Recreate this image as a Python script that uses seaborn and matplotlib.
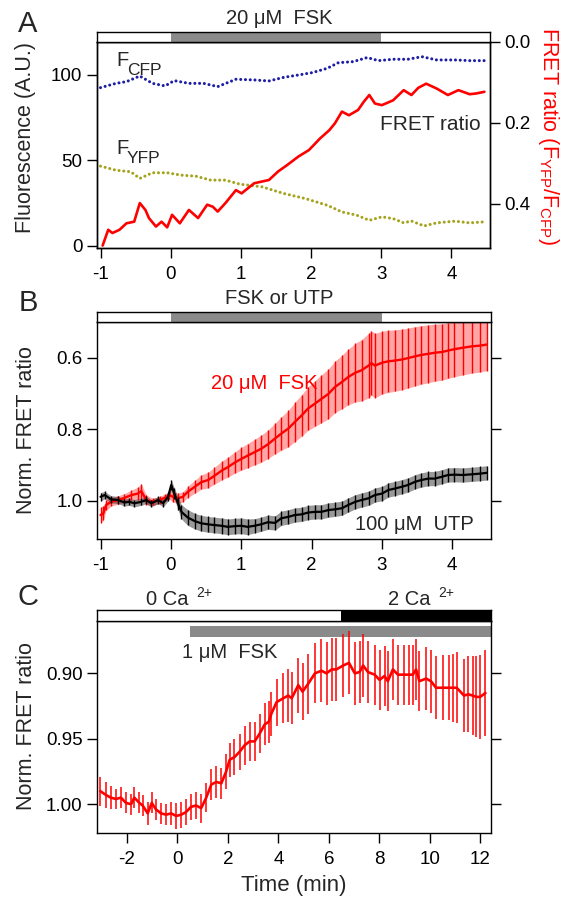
import matplotlib
matplotlib.use("Agg")
import matplotlib.pyplot as plt
import numpy as np
import seaborn as sns

# ------------------------------------------------------------------ data
# Panel A : raw fluorescence (left axis) and FRET ratio (right axis)
a_cfp_t = [-1.00, -0.78, -0.63, -0.44, -0.26, -0.08, 0.05, 0.26, 0.47, 0.67, 0.93, 1.19, 1.40, 1.61,
           1.82, 2.02, 2.23, 2.39, 2.60, 2.80, 2.96, 3.17, 3.38, 3.58, 3.79, 4.05, 4.26, 4.49]
a_cfp = [92.6, 95.1, 96.1, 99.4, 95.1, 93.6, 96.7, 95.1, 95.1, 93.2, 97.5, 97.1, 96.5, 98.6,
         100.0, 101.4, 103.9, 107.2, 107.8, 110.2, 108.4, 109.2, 109.2, 110.7, 108.8, 108.8, 108.4, 108.4]
a_yfp_t = [-1.00, -0.78, -0.57, -0.44, -0.26, -0.05, 0.15, 0.36, 0.57, 0.78, 0.99, 1.30, 1.61, 1.92,
           2.23, 2.44, 2.65, 2.83, 3.01, 3.17, 3.32, 3.43, 3.61, 3.79, 4.05, 4.26, 4.47]
a_yfp = [46.7, 44.3, 43.4, 39.5, 42.8, 42.8, 41.4, 40.8, 38.5, 38.5, 36.1, 34.6, 30.7, 27.7,
         23.8, 19.9, 18.0, 15.0, 17.0, 16.0, 13.5, 14.6, 11.7, 13.5, 14.5, 13.5, 14.1]
a_fret_t = [-0.97, -0.89, -0.83, -0.73, -0.63, -0.52, -0.44, -0.36, -0.31, -0.21, -0.13, -0.05, 0.02,
            0.13, 0.26, 0.39, 0.52, 0.60, 0.67, 0.78, 0.93, 1.01, 1.19, 1.40, 1.53, 1.66, 1.82, 1.97,
            2.13, 2.26, 2.34, 2.44, 2.54, 2.67, 2.75, 2.83, 2.91, 3.01, 3.17, 3.32, 3.43, 3.53, 3.64,
            3.79, 3.95, 4.10, 4.26, 4.36, 4.47]
a_fret = [0.503, 0.464, 0.472, 0.464, 0.448, 0.444, 0.398, 0.415, 0.435, 0.456, 0.444, 0.458, 0.427,
          0.448, 0.415, 0.435, 0.402, 0.407, 0.419, 0.398, 0.366, 0.374, 0.349, 0.341, 0.320, 0.304,
          0.283, 0.267, 0.238, 0.218, 0.201, 0.172, 0.181, 0.168, 0.148, 0.131, 0.152, 0.156, 0.144,
          0.119, 0.131, 0.113, 0.103, 0.115, 0.131, 0.119, 0.129, 0.127, 0.123]

# Panel B : normalised FRET ratio, 20 uM FSK (red) and 100 uM UTP (black)
b_fsk_t = [-1.00, -0.96, -0.92, -0.85, -0.75, -0.66, -0.56, -0.47, -0.42, -0.35, -0.26, -0.16, -0.09,
           -0.02, 0.03, 0.10, 0.17, 0.24, 0.34, 0.43, 0.53, 0.62, 0.72, 0.81, 0.91, 1.00, 1.09, 1.19,
           1.28, 1.38, 1.48, 1.57, 1.67, 1.76, 1.86, 1.95, 2.05, 2.14, 2.24, 2.33, 2.43, 2.52, 2.62,
           2.71, 2.81, 2.85, 2.90, 3.00, 3.09, 3.18, 3.28, 3.37, 3.47, 3.56, 3.66, 3.75, 3.85, 3.94,
           4.03, 4.15, 4.28, 4.40, 4.49]
b_fsk = [1.040, 1.035, 1.012, 1.003, 0.998, 0.992, 0.984, 0.980, 0.973, 0.998, 1.003, 0.998, 0.992,
         0.984, 0.989, 0.993, 0.989, 0.975, 0.961, 0.948, 0.942, 0.930, 0.916, 0.906, 0.893, 0.883,
         0.874, 0.864, 0.855, 0.842, 0.826, 0.812, 0.798, 0.780, 0.761, 0.742, 0.728, 0.715, 0.701,
         0.682, 0.668, 0.654, 0.642, 0.635, 0.622, 0.615, 0.622, 0.614, 0.610, 0.608, 0.605, 0.601,
         0.596, 0.592, 0.589, 0.586, 0.584, 0.580, 0.576, 0.572, 0.568, 0.566, 0.563]
b_fsk_err = [0.022, 0.020, 0.015, 0.012, 0.012, 0.012, 0.014, 0.018, 0.020, 0.014, 0.010, 0.010, 0.010,
             0.012, 0.015, 0.014, 0.014, 0.016, 0.018, 0.020, 0.022, 0.024, 0.026, 0.028, 0.030, 0.032,
             0.034, 0.036, 0.038, 0.040, 0.043, 0.047, 0.051, 0.055, 0.058, 0.061, 0.064, 0.067, 0.070,
             0.072, 0.075, 0.078, 0.082, 0.086, 0.090, 0.090, 0.090, 0.088, 0.087, 0.086, 0.085, 0.084,
             0.083, 0.082, 0.081, 0.080, 0.079, 0.078, 0.077, 0.076, 0.075, 0.074, 0.073]
b_utp_t = [-1.00, -0.94, -0.85, -0.75, -0.66, -0.59, -0.52, -0.42, -0.35, -0.28, -0.18, -0.11, -0.04,
           0.005, 0.05, 0.10, 0.15, 0.24, 0.34, 0.43, 0.53, 0.62, 0.72, 0.81, 0.91, 1.00, 1.09, 1.19,
           1.28, 1.38, 1.48, 1.57, 1.67, 1.76, 1.86, 1.95, 2.05, 2.14, 2.24, 2.33, 2.43, 2.52, 2.62,
           2.71, 2.81, 2.90, 3.00, 3.09, 3.18, 3.28, 3.37, 3.47, 3.56, 3.66, 3.75, 3.85, 3.94, 4.03,
           4.15, 4.28, 4.40, 4.49]
b_utp = [0.989, 0.984, 0.996, 0.998, 1.005, 1.003, 1.007, 1.003, 0.998, 1.007, 0.998, 1.007, 0.989,
         0.956, 0.980, 1.007, 1.031, 1.047, 1.057, 1.063, 1.066, 1.068, 1.070, 1.073, 1.071, 1.070,
         1.073, 1.070, 1.066, 1.060, 1.062, 1.049, 1.045, 1.040, 1.038, 1.033, 1.031, 1.031, 1.026,
         1.024, 1.021, 1.012, 1.003, 0.998, 0.993, 0.984, 0.980, 0.970, 0.966, 0.961, 0.956, 0.947,
         0.942, 0.938, 0.938, 0.933, 0.928, 0.927, 0.928, 0.926, 0.924, 0.922]
b_utp_err = [0.012, 0.010, 0.010, 0.010, 0.010, 0.010, 0.010, 0.010, 0.010, 0.010, 0.010, 0.010, 0.012,
             0.015, 0.015, 0.018, 0.020, 0.022, 0.022, 0.022, 0.022, 0.022, 0.022, 0.022, 0.022, 0.022,
             0.022, 0.020, 0.020, 0.020, 0.020, 0.020, 0.020, 0.020, 0.020, 0.020, 0.020, 0.020, 0.020,
             0.020, 0.020, 0.020, 0.020, 0.020, 0.020, 0.020, 0.020, 0.020, 0.020, 0.020, 0.020, 0.020,
             0.020, 0.020, 0.020, 0.020, 0.020, 0.020, 0.020, 0.020, 0.020, 0.020]

# Panel C : 1 uM FSK, 0 -> 2 Ca2+
c_t = [-3.06, -2.83, -2.64, -2.44, -2.24, -2.04, -1.84, -1.71, -1.51, -1.38, -1.18, -1.02, -0.85,
       -0.65, -0.45, -0.25, -0.05, 0.15, 0.34, 0.54, 0.74, 0.94, 1.14, 1.34, 1.54, 1.74, 1.93, 2.07,
       2.26, 2.46, 2.66, 2.86, 3.06, 3.26, 3.46, 3.62, 3.72, 3.93, 4.20, 4.39, 4.53, 4.79, 4.96, 5.18,
       5.45, 5.71, 5.91, 6.11, 6.30, 6.57, 6.80, 7.03, 7.22, 7.36, 7.55, 7.82, 8.01, 8.21, 8.34, 8.54,
       8.74, 9.00, 9.17, 9.33, 9.46, 9.59, 9.86, 10.05, 10.25, 10.51, 10.78, 10.92, 11.07, 11.36,
       11.53, 11.70, 11.85, 12.00, 12.21]
c_fret = [0.990, 0.993, 0.995, 0.996, 0.995, 0.999, 1.000, 0.995, 0.999, 1.001, 1.007, 0.999, 1.004,
          1.007, 1.008, 1.007, 1.009, 1.008, 1.006, 1.002, 1.001, 1.003, 0.995, 0.985, 0.983, 0.984,
          0.975, 0.966, 0.964, 0.960, 0.955, 0.952, 0.952, 0.946, 0.939, 0.937, 0.931, 0.922, 0.919,
          0.917, 0.919, 0.909, 0.914, 0.908, 0.900, 0.898, 0.900, 0.897, 0.897, 0.894, 0.892, 0.900,
          0.899, 0.894, 0.899, 0.901, 0.905, 0.902, 0.906, 0.897, 0.901, 0.901, 0.901, 0.901, 0.897,
          0.906, 0.904, 0.906, 0.911, 0.911, 0.911, 0.911, 0.911, 0.917, 0.916, 0.917, 0.918, 0.918,
          0.915]
c_err = [0.011, 0.010, 0.009, 0.008, 0.008, 0.008, 0.008, 0.008, 0.008, 0.008, 0.009, 0.008, 0.008,
         0.008, 0.008, 0.009, 0.010, 0.010, 0.010, 0.010, 0.010, 0.011, 0.011, 0.012, 0.012, 0.012,
         0.013, 0.013, 0.014, 0.014, 0.015, 0.015, 0.015, 0.015, 0.016, 0.016, 0.017, 0.018, 0.019,
         0.020, 0.020, 0.021, 0.022, 0.023, 0.023, 0.024, 0.024, 0.024, 0.024, 0.024, 0.024, 0.024,
         0.024, 0.024, 0.024, 0.023, 0.023, 0.023, 0.023, 0.023, 0.023, 0.023, 0.023, 0.023, 0.023,
         0.023, 0.024, 0.024, 0.024, 0.025, 0.025, 0.026, 0.027, 0.028, 0.029, 0.030, 0.031, 0.032,
         0.033]

# stimulation periods
fsk_on, fsk_off = 0.0, 3.0
c_fsk_on = 0.5
ca_switch = 6.5

ab_xticks = [-1, 0, 1, 2, 3, 4]
a_left_ticks = [0, 50, 100]
a_right_ticks = [0.0, 0.2, 0.4]
b_yticks = [0.6, 0.8, 1.0]
c_xticks = [-2, 0, 2, 4, 6, 8, 10, 12]
c_yticks = [0.90, 0.95, 1.00]

# ------------------------------------------------------------------ style
sns.set_theme(style="ticks")
plt.rcParams.update({
    "font.family": ["Liberation Sans", "DejaVu Sans"],
    "mathtext.fontset": "custom",
    "mathtext.rm": "Liberation Sans",
    "mathtext.it": "Liberation Sans",
    "mathtext.bf": "Liberation Sans",
    "mathtext.default": "regular",
    "axes.edgecolor": "black",
    "axes.linewidth": 1.0,
    "xtick.color": "black",
    "ytick.color": "black",
    "xtick.major.size": 7.5,
    "ytick.major.size": 7.5,
    "xtick.major.width": 1.0,
    "ytick.major.width": 1.0,
    "xtick.direction": "out",
    "ytick.direction": "out",
    "xtick.labelsize": 13.5,
    "ytick.labelsize": 13.5,
    "xtick.major.pad": 5.5,
    "ytick.major.pad": 3,
})

W, H = 569, 898
fig = plt.figure(figsize=(W / 100, H / 100), dpi=100)
fig.patch.set_facecolor("white")


def box(l, t, r, b):
    return [l / W, 1 - b / H, (r - l) / W, (b - t) / H]


def ftext(x, y, s, **kw):
    return fig.text(x / W, 1 - y / H, s, **kw)


RED = "#ff0000"
GRAY = "#8a8a8a"
BLUE = "#1d1da6"
OLIVE = "#a3a31c"

ab_xlim = (-1.05, 4.55)
c_xlim = (-3.19, 12.43)


def stim_bar(top, bot, left, right, xlim, spans):
    b = fig.add_axes(box(left, top, right, bot))
    b.set_xlim(xlim)
    b.set_ylim(0, 1)
    for x0, x1, c in spans:
        b.axvspan(x0, x1, color=c, lw=0)
    b.set_xticks([])
    b.set_yticks([])
    for s in b.spines.values():
        s.set_color("black")
        s.set_linewidth(1.0)
    return b


def style_main(ax, right_ticks=True):
    ax.tick_params(axis="x", which="both", top=False, bottom=True)
    ax.tick_params(axis="y", which="both", left=True, right=right_ticks, labelright=False)
    for s in ax.spines.values():
        s.set_visible(True)
        s.set_color("black")
        s.set_linewidth(1.0)
    ax.set_xlabel("")
    ax.set_ylabel("")
    ax.grid(False)


def err_series(ax, t, m, e, color, lw_mean, lw_err, band_alpha):
    t = np.asarray(t)
    m = np.asarray(m)
    e = np.asarray(e)
    if band_alpha > 0:
        ax.fill_between(t, m - e, m + e, color=color, alpha=band_alpha, lw=0)
    ax.vlines(t, m - e, m + e, color=color, lw=lw_err)
    sns.lineplot(x=t, y=m, ax=ax, color=color, lw=lw_mean, estimator=None, sort=False, legend=False)


# ------------------------------------------------------------------ panel A
axA = fig.add_axes(box(97, 42, 490, 248))
sns.lineplot(x=a_cfp_t, y=a_cfp, ax=axA, color=BLUE, lw=2.2, estimator=None, sort=False, legend=False)
sns.lineplot(x=a_yfp_t, y=a_yfp, ax=axA, color=OLIVE, lw=2.2, estimator=None, sort=False, legend=False)
for ln in axA.lines:
    ln.set_linestyle((0, (0.01, 1.55)))
    ln.set_dash_capstyle("round")
axA.set_xlim(ab_xlim)
axA.set_ylim(-1.2, 119.3)
axA.set_xticks(ab_xticks)
axA.set_xticklabels([str(v) for v in ab_xticks])
axA.set_yticks(a_left_ticks)
axA.set_yticklabels([str(v) for v in a_left_ticks])
style_main(axA, right_ticks=False)

axA2 = axA.twinx()
sns.lineplot(x=a_fret_t, y=a_fret, ax=axA2, color=RED, lw=1.9, estimator=None, sort=False, legend=False)
axA2.set_ylim(0.509, 0.0)
axA2.set_yticks(a_right_ticks)
axA2.set_yticklabels(["%.1f" % v for v in a_right_ticks])
axA2.tick_params(axis="y", right=True, labelright=True, left=False, labelleft=False,
                 direction="out", length=7.5, width=1.0, pad=3, labelsize=13.5)
axA2.set_ylabel("")
for s in axA2.spines.values():
    s.set_visible(True)
    s.set_color("black")
    s.set_linewidth(1.0)

stim_bar(32, 42, 97, 490, ab_xlim, [(fsk_on, fsk_off, GRAY)])

# ------------------------------------------------------------------ panel B
axB = fig.add_axes(box(97, 322, 491, 539))
err_series(axB, b_fsk_t, b_fsk, b_fsk_err, RED, 1.7, 1.0, 0.35)
err_series(axB, b_utp_t, b_utp, b_utp_err, "black", 1.6, 1.0, 0.4)
axB.set_xlim(ab_xlim)
axB.set_ylim(1.107, 0.5)
axB.set_xticks(ab_xticks)
axB.set_xticklabels([str(v) for v in ab_xticks])
axB.set_yticks(b_yticks)
axB.set_yticklabels(["%.1f" % v for v in b_yticks])
style_main(axB)
stim_bar(312, 322, 97, 491, ab_xlim, [(fsk_on, fsk_off, GRAY)])

# ------------------------------------------------------------------ panel C
axC = fig.add_axes(box(97, 621, 491, 833))
axC.axvspan(c_fsk_on, c_xlim[1], ymin=0.923, ymax=0.976, color=GRAY, lw=0)
err_series(axC, c_t, c_fret, c_err, RED, 1.9, 1.1, 0.0)
axC.set_xlim(c_xlim)
axC.set_ylim(1.022, 0.860)
axC.set_xticks(c_xticks)
axC.set_xticklabels([str(v) for v in c_xticks])
axC.set_yticks(c_yticks)
axC.set_yticklabels(["%.2f" % v for v in c_yticks])
style_main(axC)
stim_bar(610, 621, 97, 491, c_xlim, [(ca_switch, c_xlim[1], "black")])

# ------------------------------------------------------------------ texts
for letter, y in (("A", 24), ("B", 303), ("C", 597)):
    ftext(28, y, letter, fontsize=21, ha="center", va="center")

ftext(279, 19, "20 μM  FSK", fontsize=14.5, ha="center", va="center")
ftext(116, 66, "F", fontsize=14.5, ha="left", va="baseline")
ftext(127, 75, "CFP", fontsize=12.5, ha="left", va="baseline")
ftext(116, 154, "F", fontsize=14.5, ha="left", va="baseline")
ftext(127, 163, "YFP", fontsize=12.5, ha="left", va="baseline")
ftext(481, 130, "FRET ratio", fontsize=15, ha="right", va="baseline")
ftext(26, 138, "Fluorescence (A.U.)", fontsize=15.5, rotation=90, ha="center", va="center")
ftext(549, 136, "FRET ratio (F$_{YFP}$/F$_{CFP}$)", fontsize=15.5, rotation=270,
      ha="center", va="center", color=RED)

ftext(279, 298, "FSK or UTP", fontsize=14.5, ha="center", va="center")
ftext(211, 389, "20 μM  FSK", fontsize=14.5, ha="left", va="baseline", color=RED)
ftext(355, 530, "100 μM  UTP", fontsize=14.5, ha="left", va="baseline")
ftext(26, 430, "Norm. FRET ratio", fontsize=15.5, rotation=90, ha="center", va="center")

ftext(146, 605, "0 Ca", fontsize=14.5, ha="left", va="baseline")
ftext(196, 597, "2+", fontsize=10, ha="left", va="baseline")
ftext(388, 605, "2 Ca", fontsize=14.5, ha="left", va="baseline")
ftext(438, 597, "2+", fontsize=10, ha="left", va="baseline")
ftext(182, 658, "1 μM  FSK", fontsize=14.5, ha="left", va="baseline")
ftext(26, 726, "Norm. FRET ratio", fontsize=15.5, rotation=90, ha="center", va="center")
ftext(294, 885, "Time (min)", fontsize=16, ha="center", va="center")

fig.savefig("out.png", dpi=100, facecolor="white")
